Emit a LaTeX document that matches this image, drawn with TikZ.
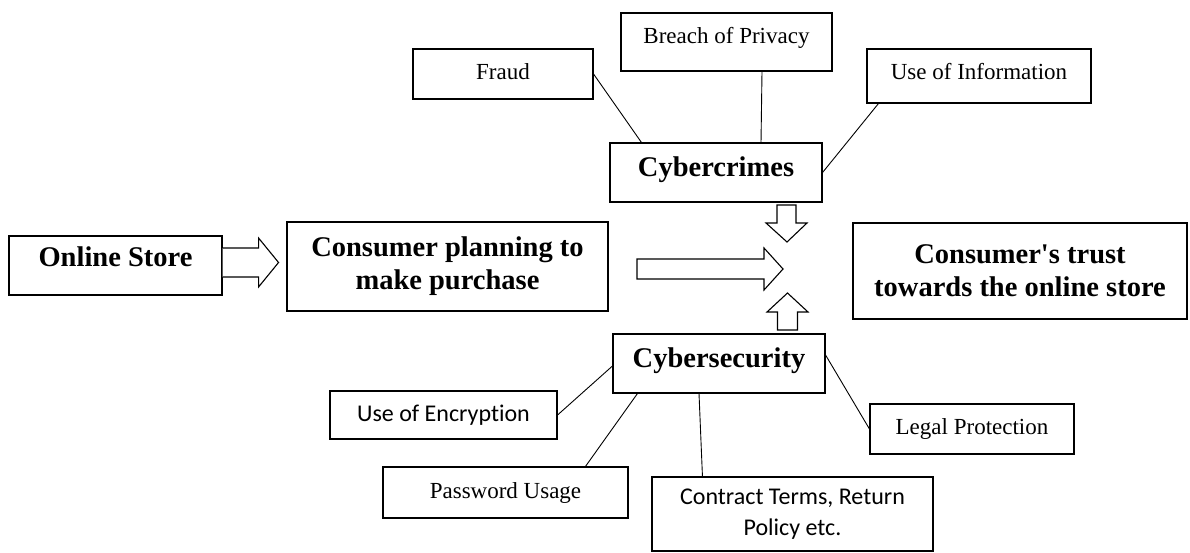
\documentclass[tikz,border=0pt]{standalone}
\usepackage{fontspec}
\setmainfont{Liberation Serif}[Ligatures=TeXOff]
\newfontfamily\calibri[Ligatures=NoCommon]{Carlito}
\usetikzlibrary{calc}
\begin{document}
\begin{tikzpicture}[x=1pt,y=-1pt,
  box/.style={draw, line width=1.1pt, inner sep=0pt, align=center},
  small/.style={box, font=\fontsize{23}{27}\selectfont},
  smallc/.style={box, font=\calibri\fontsize{24}{31}\selectfont},
  big/.style={box, font=\bfseries\fontsize{28.5}{33}\selectfont},
  link/.style={line width=0.9pt},
  hollow/.style={draw, line width=1.1pt, line join=miter, fill=white}]
\useasboundingbox (0,0) rectangle (1190,553);

% top factors
\node[small, minimum width=180pt, minimum height=50pt, text depth=4pt] (fraud) at (503,74) {Fraud};
\node[small, minimum width=211pt, minimum height=58pt, text depth=14pt] (breach) at (726.5,42) {Breach of Privacy};
\node[small, minimum width=224pt, minimum height=54pt, text depth=10pt] (useinfo) at (979,76) {Use of Information};
\node[big, minimum width=212pt, minimum height=59pt, text depth=12pt] (crimes) at (716,172.5) {Cybercrimes};

% middle row
\node[big, minimum width=213pt, minimum height=59pt, text depth=17pt] (online) at (115.5,265.5) {Online Store};
\node[big, minimum width=321pt, minimum height=89pt] (plan) at (447.5,266.5) {Consumer planning to\\make purchase};
\node[big, minimum width=334pt, minimum height=96pt] (trust) at (1020,271) {Consumer's trust\\towards the online store};

% bottom factors
\node[big, minimum width=212pt, minimum height=59pt, text depth=12pt] (security) at (719,363.5) {Cybersecurity};
\node[smallc, minimum width=227pt, minimum height=48pt] (encrypt) at (443.5,415) {Use of Encryption};
\node[small, minimum width=245pt, minimum height=51pt] (password) at (505.5,492.5) {Password Usage};
\node[smallc, minimum width=281pt, minimum height=74pt] (contract) at (792.5,514) {Contract Terms, Return\\Policy etc.};
\node[small, minimum width=204pt, minimum height=50pt] (legal) at (972,429) {Legal Protection};

% connectors
\draw[link] (fraud.east) -- ($(crimes.north west)+(32,0)$);
\draw[link] ($(breach.south)+(35.5,0)$) -- ($(crimes.north)+(45,0)$);
\draw[link] ($(useinfo.south west)+(12,0)$) -- (crimes.east);
\draw[link] ($(security.west)+(0,2.5)$) -- (encrypt.east);
\draw[link] ($(security.south west)+(25,0)$) -- ($(password.north west)+(203,0)$);
\draw[link] ($(security.south)+(-20,0)$) -- ($(contract.north west)+(51,0)$);
\draw[link] ($(security.east)+(0,-8.5)$) -- (legal.west);

% hollow arrows
\begin{scope}[shift={(online.east)}]
  \draw[hollow] (0,-17.5) -- (36,-17.5) -- (36,-27.5) -- (56,-3) -- (36,21.5) -- (36,11.5) -- (0,11.5);
\end{scope}
\coordinate (meet) at (787,269);
\begin{scope}[shift={(meet)}]
  \draw[hollow] (-150,-10) -- (-23,-10) -- (-23,-21) -- (-4,0) -- (-23,21) -- (-23,10) -- (-150,10) -- cycle;
  \draw[hollow] (-10,-64) -- (9,-64) -- (9,-46) -- (20,-46) -- (0,-27) -- (-21,-46) -- (-10,-46) -- cycle;
  \draw[hollow] (0.5,24) -- (21,43) -- (10.5,43) -- (10.5,61) -- (-9.5,61) -- (-9.5,43) -- (-20,43) -- cycle;
\end{scope}
\end{tikzpicture}
\end{document}
